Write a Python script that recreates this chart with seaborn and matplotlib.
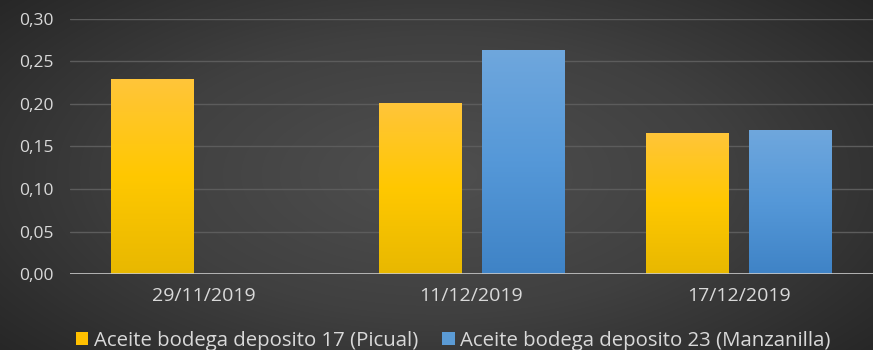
import numpy as np
import pandas as pd
import matplotlib
matplotlib.use("Agg")
import matplotlib.pyplot as plt
import seaborn as sns
from matplotlib.colors import LinearSegmentedColormap
from matplotlib.ticker import FuncFormatter

fechas = ["29/11/2019", "11/12/2019", "17/12/2019"]
serie_17 = [0.229, 0.201, 0.166]
serie_23 = [np.nan, 0.264, 0.169]
nombre_17 = "Aceite bodega deposito 17 (Picual)"
nombre_23 = "Aceite bodega deposito 23 (Manzanilla)"

df = pd.DataFrame({
    "fecha": fechas * 2,
    "valor": serie_17 + serie_23,
    "serie": [nombre_17] * 3 + [nombre_23] * 3,
})

sns.set_theme(style="white")
plt.rcParams["font.family"] = ["Open Sans", "DejaVu Sans"]

fig = plt.figure(figsize=(8.73, 3.5), dpi=100)

# radial gradient background
bg = fig.add_axes([0, 0, 1, 1], zorder=-10)
yy, xx = np.mgrid[-1:1:350j, -1:1:873j]
r = np.sqrt((xx * 0.9) ** 2 + (yy * 0.75) ** 2)
r = np.clip(r, 0, 1.2) / 1.2
bg_cmap = LinearSegmentedColormap.from_list("bg", ["#4f4f4f", "#404040", "#262626"])
bg.imshow(r, cmap=bg_cmap, aspect="auto", extent=[0, 1, 0, 1], vmin=0, vmax=1)
bg.set_axis_off()

ax = fig.add_axes([0.080, 0.217, 0.920, 0.729])
ax.patch.set_alpha(0)

pal = {nombre_17: "#FFC000", nombre_23: "#5B9BD5"}
sns.barplot(data=df, x="fecha", y="valor", hue="serie", order=fechas,
            hue_order=[nombre_17, nombre_23], palette=pal, width=0.77, gap=0.2,
            ax=ax, zorder=3, linewidth=0, saturation=1)

ax.set_ylim(0, 0.30)
ax.set_xlim(-0.5, 2.5)
ax.set_yticks(np.arange(0, 0.301, 0.05))
ax.yaxis.set_major_formatter(FuncFormatter(lambda v, p: f"{v:.2f}".replace(".", ",")))
ax.grid(axis="y", color="#5c5c5c", linewidth=1, zorder=0)
ax.axhline(0, color="#c8c8c8", linewidth=1.2, zorder=4)
for s in ax.spines.values():
    s.set_visible(False)
ax.set_xlabel("")
ax.set_ylabel("")
ax.tick_params(axis="both", colors="#d9d9d9", length=0)
ax.tick_params(axis="x", pad=9, labelsize=14)
ax.tick_params(axis="y", pad=12, labelsize=12.5)

# gradient fill for bars
grads = {
    nombre_17: LinearSegmentedColormap.from_list("y", ["#E8B800", "#FFC800", "#FFC53A"]),
    nombre_23: LinearSegmentedColormap.from_list("b", ["#3F83C6", "#5598D8", "#6FA7DD"]),
}
for cont, name in zip(ax.containers, [nombre_17, nombre_23]):
    for p in cont.patches:
        h = p.get_height()
        if not np.isfinite(h) or h == 0:
            continue
        x0, w = p.get_x(), p.get_width()
        grad = np.linspace(0, 1, 256).reshape(-1, 1)
        im = ax.imshow(grad, cmap=grads[name], origin="lower", aspect="auto",
                       extent=[x0, x0 + w, 0, h], zorder=3.5)
        im.set_clip_path(p)
ax.set_xlim(-0.5, 2.5)
ax.set_ylim(0, 0.30)

handles, labels = ax.get_legend_handles_labels()
ax.legend_.remove()
leg = fig.legend(handles, labels, loc="center", bbox_to_anchor=(0.519, 0.026),
                 ncol=2, frameon=False, fontsize=14.7, handlelength=0.6,
                 handleheight=0.6, handletextpad=0.25, columnspacing=1.2,
                 borderpad=0)
for t in leg.get_texts():
    t.set_color("#d9d9d9")

fig.savefig("out.png", dpi=100)
